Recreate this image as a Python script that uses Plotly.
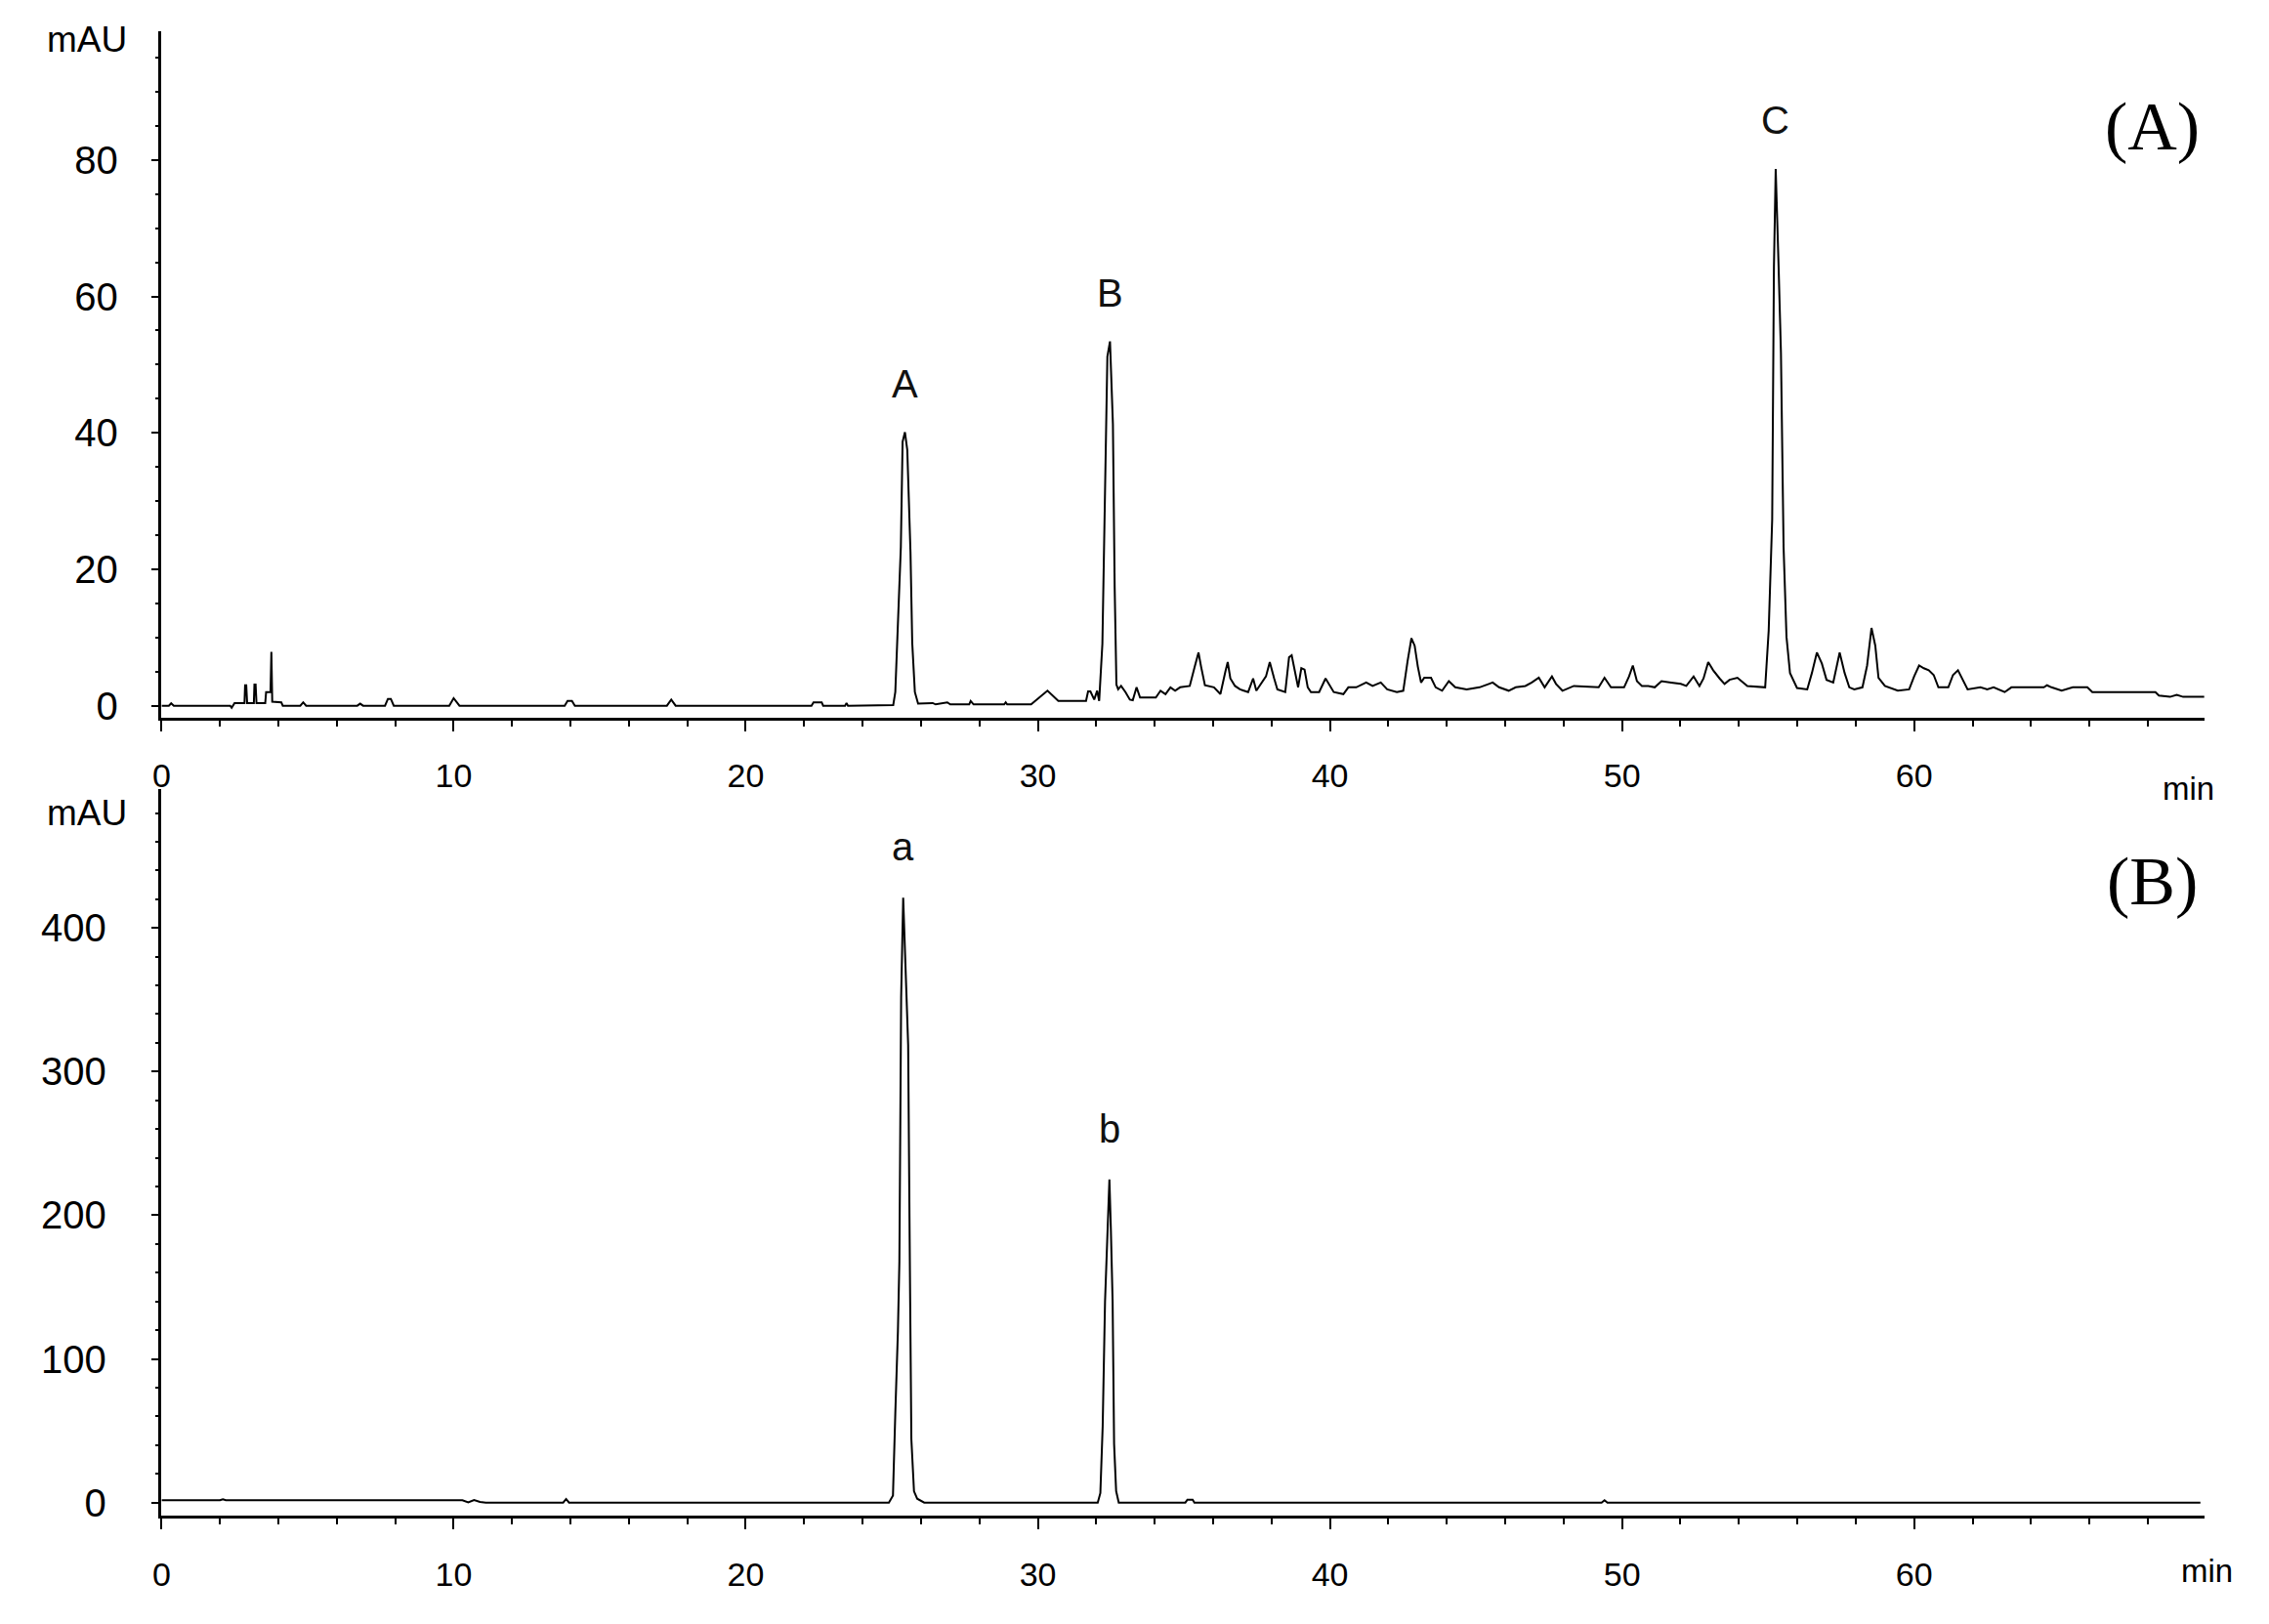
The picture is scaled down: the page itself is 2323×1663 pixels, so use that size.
import plotly.graph_objects as go
from plotly.subplots import make_subplots

# Panel (A): sample chromatogram
time_a = [
    0.0, 0.25, 0.33, 0.42, 2.35, 2.4, 2.5, 2.84, 2.86, 2.9, 2.93, 3.16, 3.18, 3.22, 3.25,
    3.55, 3.58, 3.73, 3.76, 3.79, 4.1, 4.15, 4.75, 4.85, 4.95, 6.7, 6.8, 6.9, 7.65, 7.75,
    7.85, 7.95, 9.85, 10.0, 10.2, 13.8, 13.9, 14.05, 14.15, 17.3, 17.45, 17.6, 22.25, 22.32,
    22.6, 22.65, 23.4, 23.45, 23.5, 25.05, 25.12, 25.19, 25.31, 25.37, 25.45, 25.53, 25.64,
    25.7, 25.79, 25.9, 26.4, 26.5, 26.9, 27.0, 27.65, 27.7, 27.8, 28.85, 28.9, 28.95, 29.77,
    30.33, 30.7, 31.65, 31.72, 31.8, 31.93, 32.03, 32.1, 32.21, 32.3, 32.38, 32.47, 32.57,
    32.63, 32.69, 32.75, 32.85, 33.0, 33.15, 33.25, 33.38, 33.5, 34.04, 34.2, 34.37, 34.54,
    34.7, 34.87, 35.2, 35.37, 35.5, 35.59, 35.72, 36.03, 36.25, 36.42, 36.5, 36.59, 36.75,
    36.92, 37.2, 37.37, 37.48, 37.81, 37.94, 38.09, 38.2, 38.47, 38.6, 38.69, 38.82, 38.91,
    39.02, 39.13, 39.24, 39.35, 39.63, 39.85, 40.13, 40.46, 40.63, 40.9, 41.24, 41.46, 41.74,
    41.96, 42.29, 42.51, 42.66, 42.79, 42.9, 43.01, 43.12, 43.23, 43.46, 43.62, 43.84, 44.07,
    44.29, 44.68, 45.12, 45.57, 45.79, 46.12, 46.36, 46.69, 46.91, 47.15, 47.35, 47.6, 47.74,
    47.96, 48.35, 48.91, 49.2, 49.4, 49.62, 50.07, 50.24, 50.37, 50.51, 50.68, 50.9, 51.12,
    51.35, 51.68, 52.01, 52.2, 52.45, 52.65, 52.79, 52.95, 53.12, 53.34, 53.51, 53.68, 53.95,
    54.29, 54.9, 55.02, 55.14, 55.2, 55.26, 55.36, 55.44, 55.53, 55.63, 55.75, 55.99, 56.34,
    56.5, 56.67, 56.84, 57.0, 57.23, 57.45, 57.62, 57.78, 57.95, 58.23, 58.39, 58.54, 58.67,
    58.78, 59.0, 59.44, 59.83, 60.0, 60.17, 60.33, 60.5, 60.67, 60.83, 61.17, 61.33, 61.5,
    61.67, 61.83, 62.27, 62.5, 62.72, 63.1, 63.33, 64.44, 64.55, 64.7, 65.05, 65.43, 65.93,
    66.1, 68.26, 68.38, 68.76, 68.99, 69.21, 69.93,
]
mau_a = [
    0.0, 0.0, 0.35, 0.0, 0.0, -0.3, 0.4, 0.4, 3.0, 3.0, 0.4, 0.4, 3.1, 3.1, 0.4,
    0.4, 2.0, 2.0, 7.9, 0.6, 0.5, 0.0, 0.0, 0.5, 0.0, 0.0, 0.3, 0.0, 0.0, 1.0,
    1.0, 0.0, 0.0, 1.1, 0.0, 0.0, 0.7, 0.7, 0.0, 0.0, 0.9, 0.0, 0.0, 0.5,
    0.5, 0.0, 0.0, 0.4, 0.0, 0.1, 2.0, 11.0, 23.3, 38.7, 40.1, 37.5, 22.5,
    9.2, 2.0, 0.3, 0.4, 0.2, 0.5, 0.2, 0.2, 0.7, 0.2, 0.2, 0.5, 0.2, 0.2,
    2.2, 0.7, 0.7, 2.1, 2.1, 0.9, 2.2, 0.7, 9.1, 30.4, 51.2, 53.4, 41.3,
    17.4, 3.1, 2.4, 2.9, 2.0, 0.9, 0.8, 2.7, 1.2, 1.2, 2.2, 1.7, 2.7,
    2.2, 2.7, 2.9, 5.7, 7.8, 5.7, 3.0, 2.7, 1.7, 5.0, 6.4, 4.0, 2.9,
    2.4, 2.0, 4.0, 2.2, 4.3, 6.4, 4.0, 2.4, 2.0, 7.1, 7.4, 4.7, 2.7,
    5.5, 5.3, 2.7, 2.0, 2.0, 4.0, 2.0, 1.7, 2.7, 2.7, 3.4, 2.9, 3.4,
    2.4, 2.0, 2.2, 6.6, 9.9, 8.8, 5.7, 3.4, 4.1, 4.1, 2.7, 2.2, 3.6,
    2.7, 2.4, 2.7, 3.4, 2.7, 2.2, 2.7, 2.9, 3.4, 4.1, 2.7, 4.3, 3.2,
    2.2, 2.9, 2.7, 2.7, 4.1, 2.7, 2.7, 4.3, 5.9, 3.6, 2.9, 2.9, 2.7,
    3.6, 3.4, 3.2, 2.9, 4.3, 2.9, 4.0, 6.4, 5.2, 4.0, 3.2, 3.8, 4.1,
    2.9, 2.7, 11.0, 27.3, 64.3, 78.7, 64.3, 51.7, 23.3, 10.1, 4.8, 2.6, 2.4,
    4.8, 7.8, 6.2, 3.8, 3.4, 7.8, 4.8, 2.7, 2.4, 2.7, 5.9, 11.4, 8.8,
    4.1, 2.9, 2.2, 2.4, 4.3, 5.9, 5.5, 5.2, 4.5, 2.7, 2.7, 4.5, 5.2,
    3.8, 2.4, 2.7, 2.4, 2.7, 2.0, 2.7, 2.7, 3.0, 2.7, 2.2, 2.7, 2.7,
    2.0, 2.0, 1.5, 1.3, 1.6, 1.3, 1.3,
]

# Panel (B): reference standards
time_b = [
    0.0, 2.0, 2.1, 2.2, 10.3, 10.5, 10.7, 10.9, 11.1, 13.75, 13.85, 13.95, 24.9, 25.04,
    25.12, 25.21, 25.26, 25.32, 25.39, 25.51, 25.56, 25.62, 25.67, 25.76, 25.87, 26.11,
    32.05, 32.14, 32.22, 32.3, 32.4, 32.45, 32.5, 32.56, 32.61, 32.68, 32.77, 35.05, 35.12,
    35.3, 35.36, 49.3, 49.4, 49.5, 69.8,
]
mau_b = [
    1.6, 1.6, 2.3, 1.6, 1.6, 0.2, 1.8, 0.5, 0.0, 0.0, 2.5, 0.0, 0.0, 4.9,
    62.0, 119.6, 167.8, 351.8, 421.0, 352.0, 318.6, 161.8, 44.1, 7.9, 2.7, 0.0,
    0.0, 6.6, 53.2, 140.0, 205.0, 225.0, 190.0, 140.0, 41.0, 8.1, 0.0, 0.0, 2.0,
    2.0, 0.0, 0.0, 1.6, 0.0, 0.0,
]

peak_names_a = ["A", "B", "C"]
peak_times_a = [25.45, 32.47, 55.26]
peak_names_b = ["a", "b"]
peak_times_b = [25.39, 32.45]

SANS = "Liberation Sans, Arial, sans-serif"
SERIF = "Liberation Serif, Times New Roman, serif"
W, H = 2323, 1663
X0_PX, X1_PX = 157, 2257


def apex(times, values, t):
    # height of the trace at its highest point near t
    return max(v for x, v in zip(times, values) if abs(x - t) < 0.2)


fig = make_subplots(rows=2, cols=1)
fig.add_trace(go.Scatter(x=time_a, y=mau_a, mode="lines",
                         line=dict(color="black", width=2)), row=1, col=1)
fig.add_trace(go.Scatter(x=time_b, y=mau_b, mode="lines",
                         line=dict(color="black", width=2)), row=2, col=1)

fig.update_xaxes(
    range=[0, 69.95],
    domain=[X0_PX / W, X1_PX / W],
    showgrid=False, zeroline=False,
    showline=True, linecolor="black", linewidth=2.5,
    ticks="outside", ticklen=12, tickwidth=2, tickcolor="black",
    tickmode="linear", tick0=0, dtick=10,
    minor=dict(ticks="outside", ticklen=7, tickwidth=2, tickcolor="black", dtick=2),
    tickfont=dict(family=SANS, size=34, color="black"),
)
fig.update_xaxes(ticklabelstandoff=16, row=1, col=1)
fig.update_xaxes(ticklabelstandoff=17, row=2, col=1)

fig.update_yaxes(
    range=[-1.7, 98.9], domain=[1 - 739 / H, 1 - 32 / H],
    dtick=20, tick0=0, minor=dict(ticks="outside", ticklen=4, tickwidth=2,
                                  tickcolor="black", dtick=5),
    ticklabelstandoff=26, row=1, col=1,
)
fig.update_yaxes(
    range=[-8.8, 496.6], domain=[1 - 1561 / H, 1 - 813 / H],
    dtick=100, tick0=0, minor=dict(ticks="outside", ticklen=4, tickwidth=2,
                                   tickcolor="black", dtick=20),
    ticklabelstandoff=38, row=2, col=1,
)
fig.update_yaxes(
    showgrid=False, zeroline=False,
    showline=True, linecolor="black", linewidth=2.5,
    ticks="outside", ticklen=8, tickwidth=2, tickcolor="black",
    tickmode="linear",
    tickfont=dict(family=SANS, size=40, color="black"),
)

annotations = []
for name, t in zip(peak_names_a, peak_times_a):
    annotations.append(dict(x=t, y=apex(time_a, mau_a, t), xref="x", yref="y",
                            text=name, showarrow=False, yshift=50,
                            font=dict(family=SANS, size=40, color="#111111")))
for name, t in zip(peak_names_b, peak_times_b):
    annotations.append(dict(x=t, y=apex(time_b, mau_b, t), xref="x2", yref="y2",
                            text=name, showarrow=False, yshift=52,
                            font=dict(family=SANS, size=40, color="#111111")))


def paper_label(text, px, py, family, size):
    return dict(x=px / W, y=1 - py / H, xref="paper", yref="paper",
                xanchor="center", yanchor="middle", text=text, showarrow=False,
                font=dict(family=family, size=size, color="black"))


# axis units and panel tags
annotations += [
    paper_label("mAU", 80, 41, SANS, 37),
    paper_label("mAU", 80, 838, SANS, 37),
    paper_label("min", 2240, 812, SANS, 33),
    paper_label("min", 2259, 1618, SANS, 33),
    paper_label("(A)", 2203, 130, SERIF, 70),
    paper_label("(B)", 2203, 908, SERIF, 70),
]

fig.update_layout(
    width=W, height=H,
    margin=dict(l=0, r=0, t=0, b=0),
    plot_bgcolor="white", paper_bgcolor="white",
    showlegend=False,
    annotations=annotations,
)

fig.write_html("out.html", config={"displayModeBar": False},
               post_script="document.body.style.margin='0';")
